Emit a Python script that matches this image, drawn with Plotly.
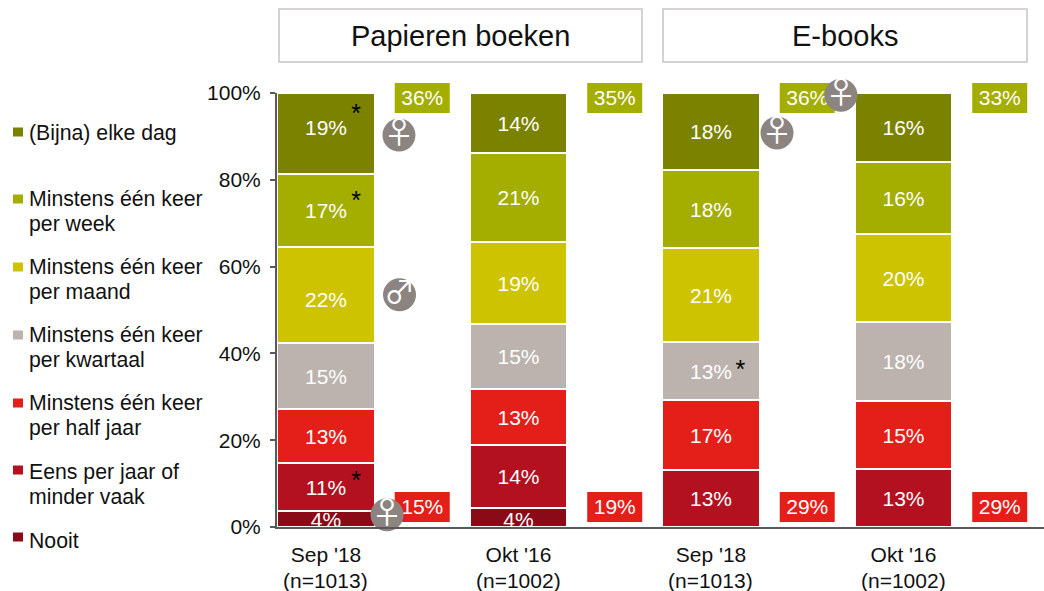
import plotly.graph_objects as go

W, H = 1044, 591
FONT = "Liberation Sans, Arial, sans-serif"

bar_x = [0, 1, 2, 3]
tick_labels = ["Sep '18", "Okt '16", "Sep '18", "Okt '16"]
tick_sublabels = ["(n=1013)", "(n=1002)", "(n=1013)", "(n=1002)"]
y_ticks = [0, 20, 40, 60, 80, 100]
y_tick_labels = ["0%", "20%", "40%", "60%", "80%", "100%"]
names = ["Nooit", "Eens per jaar of<br>minder vaak", "Minstens één keer<br>per half jaar",
         "Minstens één keer<br>per kwartaal", "Minstens één keer<br>per maand",
         "Minstens één keer<br>per week", "(Bijna) elke dag"]
colors = ["#8a0a18", "#b31020", "#e41f1a", "#bcb3ae", "#cdc300", "#a3ae00", "#7b8200"]
nooit = [3.7, 4.3, 0, 0]
eens = [11.0, 14.5, 13.1, 13.4]
halfjaar = [12.5, 13.1, 16.1, 15.6]
kwartaal = [15.2, 14.8, 13.4, 18.2]
maand = [22.1, 18.9, 21.6, 20.3]
week = [16.8, 20.5, 18.0, 16.6]
dag = [18.7, 13.8, 17.7, 15.9]
series = [nooit, eens, halfjaar, kwartaal, maand, week, dag]
# labels drawn inside the bars (the few off-centre ones follow in moved_*)
labels = [["", "", "", ""], ["11%", "14%", "13%", "13%"], ["13%", "13%", "17%", "15%"],
          ["15%", "15%", "13%", "18%"], ["", "19%", "21%", "20%"],
          ["17%", "21%", "18%", "16%"], ["", "14%", "18%", "16%"]]
moved_x = [0, 1, 0, 0]
moved_y = [1.1, 1.3, 51.8, 91.6]
moved_text = ["4%", "4%", "22%", "19%"]
legend_text_y = [541, 472, 403, 335, 267, 199, 133]
legend_mark_y = [537, 470, 403, 335, 267, 199, 132]
box_x = [0.5, 1.5, 2.5, 3.5]
green_text = ["36%", "35%", "36%", "33%"]
red_text = ["15%", "19%", "29%", "29%"]
green_y, red_y = 98.85, 4.6
star_x = [0.156, 0.156, 0.156, 2.153]
star_y = [94.7, 74.7, 10.1, 35.7]
female_x = [0.379, 0.317, 2.343, 2.675]
female_y = [90.3, 2.8, 90.8, 99.5]
male_x = [0.382]
male_y = [53.5]
headers = [("Papieren boeken", 279, 642), ("E-books", 663, 1027)]

L, R, T, B = 277, 1044, 93, 527
X_RANGE = [-0.2545, 3.73]
ICON = "#8c8480"

fig = go.Figure()
for name, vals, col, lab in zip(names, series, colors, labels):
    fig.add_bar(x=bar_x, y=vals, name=name.replace("<br>", " "), width=0.505,
                marker=dict(color=col, line=dict(color="white", width=2)),
                text=lab, textposition="inside", insidetextanchor="middle", constraintext="none",
                textangle=0, textfont=dict(color="white", size=21, family=FONT), showlegend=False)

fig.add_scatter(x=moved_x, y=moved_y, mode="text", text=moved_text, showlegend=False, cliponaxis=True,
                textfont=dict(color="white", size=21, family=FONT))
fig.add_scatter(x=box_x, y=[green_y - 0.3] * 4, mode="text", text=green_text, showlegend=False, cliponaxis=False,
                textfont=dict(color="white", size=21, family=FONT))
fig.add_scatter(x=box_x, y=[red_y - 0.3] * 4, mode="text", text=red_text, showlegend=False, cliponaxis=False,
                textfont=dict(color="white", size=21, family=FONT))
fig.add_scatter(x=star_x, y=star_y, mode="text", text=["*"] * 4, showlegend=False, cliponaxis=False,
                textfont=dict(color="black", size=25, family=FONT))
for xs, ys, glyph in [(female_x, female_y, "♀"), (male_x, male_y, "♂")]:
    fig.add_scatter(x=xs, y=ys, mode="markers+text", text=[glyph] * len(xs), textposition="middle center",
                    marker=dict(color=ICON, size=33, line=dict(width=0)), showlegend=False, cliponaxis=False,
                    textfont=dict(color="white", size=31, family="Noto Sans CJK JP"))


def px(x):
    return x / W


def py(y):
    return 1 - y / H


def y_paper(v):
    return py(B - (B - T) * v / 100)


shapes, ann = [], []
half_w = 27.5 / 192.5
half_h = 15 / 4.34
for xv in box_x:
    for yv, col in [(green_y, colors[5]), (red_y, colors[2])]:
        shapes.append(dict(type="rect", layer="below", xref="x", yref="paper", x0=xv - half_w, x1=xv + half_w,
                           y0=y_paper(yv - half_h), y1=y_paper(yv + half_h), fillcolor=col, line=dict(width=0)))

for text, x0, x1 in headers:
    shapes.append(dict(type="rect", xref="paper", yref="paper", x0=px(x0), x1=px(x1), y0=py(62), y1=py(9),
                       fillcolor="white", line=dict(color="#d6d1d3", width=2)))
    ann.append(dict(xref="paper", yref="paper", x=px((x0 + x1) / 2), y=py(36), text=text, showarrow=False,
                    xanchor="center", yanchor="middle", font=dict(size=29, family=FONT, color="#111111")))

for name, col, ty, my in zip(names, colors, legend_text_y, legend_mark_y):
    shapes.append(dict(type="rect", xref="paper", yref="paper", x0=px(13), x1=px(23), y0=py(my + 4.5),
                       y1=py(my - 4.5), fillcolor=col, line=dict(width=0)))
    for i, line in enumerate(name.split("<br>")):
        ann.append(dict(xref="paper", yref="paper", x=px(29), y=py(ty + 25 * i), text=line, showarrow=False,
                        xanchor="left", yanchor="middle", xshift=-2,
                        font=dict(size=21.25, family=FONT, color="#111111")))

for xv, sub in zip(bar_x, tick_sublabels):
    ann.append(dict(xref="x", yref="paper", x=xv, y=py(580), text=sub, showarrow=False, xanchor="center",
                    yanchor="middle", font=dict(size=21, family=FONT, color="#111111")))

fig.update_layout(
    width=W, height=H, barmode="stack", bargap=0, margin=dict(l=0, r=0, t=0, b=0),
    paper_bgcolor="white", plot_bgcolor="white", shapes=shapes, annotations=ann,
    xaxis=dict(domain=[px(L), px(R)], range=X_RANGE, tickvals=bar_x, ticktext=tick_labels, showgrid=False,
               zeroline=False, showline=True, linecolor="#595959", linewidth=2, ticks="", ticklen=0,
               ticklabelstandoff=8, tickfont=dict(size=21, family=FONT, color="#111111"),
               fixedrange=True, automargin=False),
    yaxis=dict(domain=[py(B), py(T)], range=[0, 100], tickvals=y_ticks, ticktext=y_tick_labels,
               showgrid=False, zeroline=False, showline=True, linecolor="#595959", linewidth=2, ticks="outside",
               ticklen=5, tickwidth=2, tickcolor="#595959", ticklabelstandoff=5,
               tickfont=dict(size=21, family=FONT, color="#111111"), fixedrange=True, automargin=False),
)
fig.write_html("out.html", post_script="document.body.style.margin='0';", config={"displayModeBar": False})
